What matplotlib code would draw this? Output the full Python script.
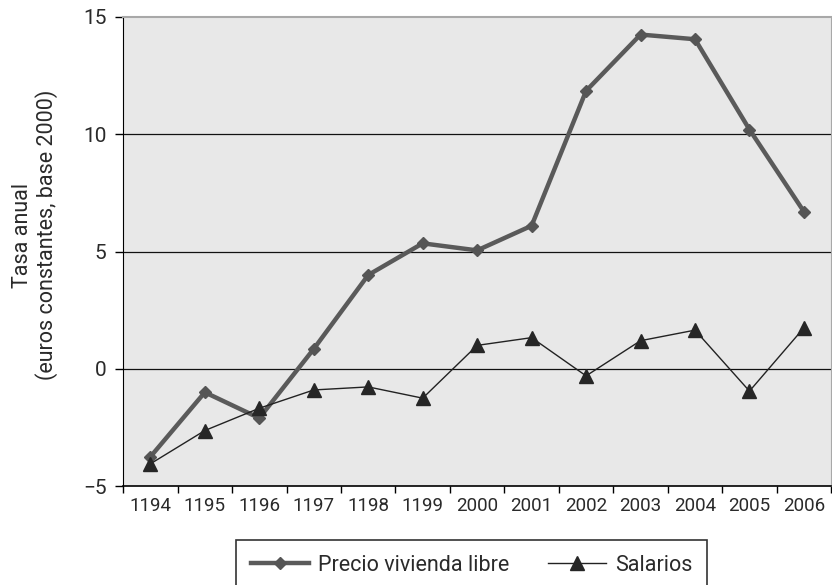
import numpy as np
import matplotlib
matplotlib.use("Agg")
import matplotlib.pyplot as plt

# datos
years = ["1194", "1195", "1196", "1197", "1198", "1199", "2000",
         "2001", "2002", "2003", "2004", "2005", "2006"]
precio = [-3.75, -1.0, -2.1, 0.85, 4.0, 5.35, 5.05, 6.1, 11.85, 14.25, 14.05, 10.2, 6.7]
salarios = [-4.05, -2.63, -1.68, -0.9, -0.77, -1.25, 1.0, 1.33, -0.3, 1.2, 1.65, -0.95, 1.75]
y_ticks = [-5, 0, 5, 10, 15]

plt.rcParams['font.family'] = ['Roboto', 'DejaVu Sans']
txt = '#2a2a2a'

fig = plt.figure(figsize=(8.32, 5.85), dpi=100)
ax = fig.add_axes([0.148, 0.169, 0.851, 0.802])
ax.set_facecolor('#e8e8e8')

x = np.arange(len(years))
ax.plot(x, precio, color='#5a5a5a', lw=3.2, marker='D', ms=6.5,
        mec='#555555', mfc='#555555', label='Precio vivienda libre', zorder=3)
ax.plot(x, salarios, color='#222222', lw=1.0, marker='^', ms=10,
        mec='#262626', mfc='#262626', label='Salarios', zorder=4)

ax.set_xlim(-0.5, len(years) - 0.5)
ax.set_ylim(-5, 15)
ax.set_yticks(y_ticks)
ax.set_yticklabels(['\u22125' if v < 0 else str(v) for v in y_ticks],
                   fontsize=15, color=txt)
ax.set_xticks(x)
ax.set_xticklabels(years, fontsize=13.5, color=txt)
ax.set_xticks(np.arange(-0.5, len(years), 1), minor=True)
ax.tick_params(axis='x', which='major', length=0, pad=8)
ax.tick_params(axis='x', which='minor', length=5, width=1, color='black')
ax.tick_params(axis='y', length=6, width=1, pad=6)

for v in [0, 5, 10]:
    ax.axhline(v, color='#111111', lw=0.9, zorder=1)

ax.spines['left'].set_color('black')
ax.spines['bottom'].set_color('black')
ax.spines['bottom'].set_linewidth(1.2)
ax.spines['top'].set_color('#a8a8a8')
ax.spines['top'].set_linewidth(1.5)
ax.spines['right'].set_color('#a8a8a8')

ax.set_ylabel('Tasa anual\n(euros constantes, base 2000)', fontsize=15.5,
              linespacing=1.1, color=txt)
ax.yaxis.set_label_coords(-0.092, 0.535)

leg = fig.legend(loc='upper center', bbox_to_anchor=(0.567, 0.077), ncol=2,
                 frameon=True, fancybox=False, edgecolor='black',
                 handlelength=2.7, columnspacing=1.8, borderpad=0.7,
                 handletextpad=0.4, borderaxespad=0, prop={'size': 15.5})
leg.get_frame().set_linewidth(1.2)
for t in leg.get_texts():
    t.set_color(txt)

fig.savefig('out.png', dpi=100)
